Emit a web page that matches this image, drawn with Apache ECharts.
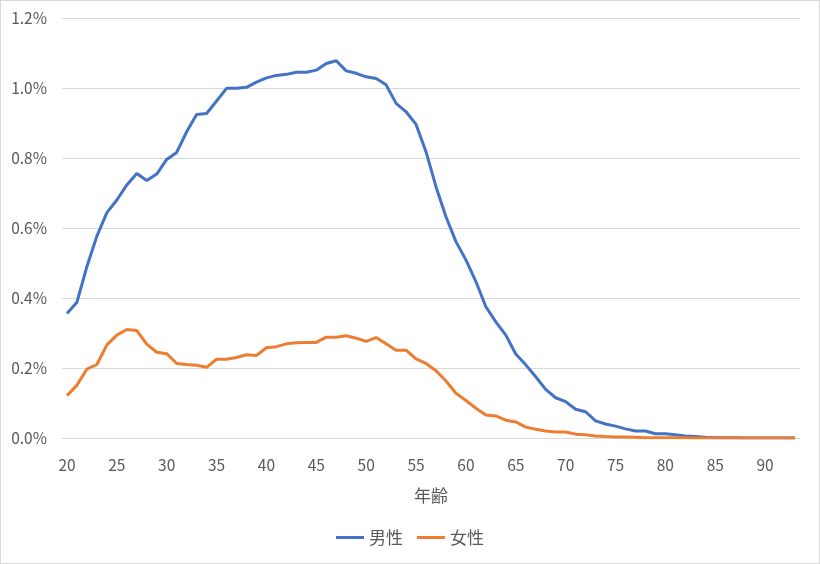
<!DOCTYPE html>
<html lang="ja" style="height: 100%">
<head>
  <meta charset="utf-8">
</head>
<body style="height: 100%; margin: 0">
  <div id="container" style="width: 820px; height: 564px; box-sizing: border-box; border: 1px solid #d9d9d9"></div>

  <script type="text/javascript" src="https://cdn.jsdelivr.net/npm/echarts@6/dist/echarts.min.js"></script>

  <script type="text/javascript">
    // ages 20..93
    const ages = [];
    for (let a = 20; a <= 93; a++) ages.push(String(a));

    // share in percent
    const male = [
      0.356, 0.388, 0.49, 0.577, 0.644, 0.68, 0.723, 0.756, 0.736, 0.754,
      0.796, 0.816, 0.875, 0.924, 0.927, 0.963, 0.999, 0.999, 1.002, 1.017,
      1.029, 1.036, 1.039, 1.045, 1.045, 1.051, 1.07, 1.078, 1.049, 1.042,
      1.032, 1.027, 1.009, 0.956, 0.932, 0.896, 0.818, 0.718, 0.632, 0.561,
      0.509, 0.447, 0.375, 0.332, 0.294, 0.24, 0.209, 0.175, 0.139, 0.115,
      0.104, 0.082, 0.075, 0.049, 0.04, 0.034, 0.026, 0.02, 0.02, 0.012,
      0.012, 0.009, 0.006, 0.004, 0.002, 0.001, 0.001, 0.0005, 0, 0,
      0, 0, 0, 0
    ];
    const female = [
      0.121, 0.151, 0.197, 0.21, 0.266, 0.294, 0.31, 0.307, 0.268, 0.245,
      0.241, 0.213, 0.21, 0.208, 0.202, 0.225, 0.225, 0.23, 0.238, 0.236,
      0.258, 0.261, 0.269, 0.272, 0.273, 0.273, 0.288, 0.288, 0.292, 0.285,
      0.276, 0.287, 0.269, 0.251, 0.251, 0.226, 0.213, 0.192, 0.163, 0.128,
      0.107, 0.085, 0.066, 0.063, 0.051, 0.046, 0.031, 0.025, 0.02, 0.017,
      0.017, 0.011, 0.009, 0.006, 0.004, 0.003, 0.003, 0.002, 0.001, 0.001,
      0.001, 0.001, 0.0005, 0, 0, 0, 0, 0, 0, 0,
      0, 0, 0, 0
    ];

    var dom = document.getElementById('container');
    var myChart = echarts.init(dom, null, { renderer: 'canvas' });
    var font = '"Noto Sans CJK JP", "Noto Sans", sans-serif';

    var option = {
      animation: false,
      textStyle: { fontFamily: font },
      grid: { left: 61, right: 19, top: 17, bottom: 125 },
      legend: {
        bottom: 12,
        left: 'center',
        icon: 'rect',
        itemWidth: 28,
        itemHeight: 3,
        itemGap: 14,
        textStyle: { color: '#595959', fontSize: 17, fontFamily: font },
        data: ['男性', '女性']
      },
      xAxis: {
        type: 'category',
        data: ages,
        boundaryGap: true,
        name: '年齢',
        nameLocation: 'middle',
        nameGap: 49,
        nameTextStyle: { color: '#595959', fontSize: 17 },
        axisLine: { lineStyle: { color: '#d9d9d9' } },
        axisTick: { show: false },
        axisLabel: { interval: 4, color: '#595959', fontSize: 15.5, margin: 19 }
      },
      yAxis: {
        type: 'value',
        min: 0,
        max: 1.2,
        interval: 0.2,
        axisLine: { show: false },
        axisTick: { show: false },
        splitLine: { lineStyle: { color: '#d9d9d9' } },
        axisLabel: {
          color: '#595959',
          fontSize: 15.5,
          margin: 15,
          formatter: function (v) { return v.toFixed(1) + '%'; }
        }
      },
      series: [
        {
          name: '男性',
          type: 'line',
          data: male,
          showSymbol: false,
          itemStyle: { color: '#4472c4' },
          lineStyle: { color: '#4472c4', width: 3 }
        },
        {
          name: '女性',
          type: 'line',
          data: female,
          showSymbol: false,
          itemStyle: { color: '#ed7d31' },
          lineStyle: { color: '#ed7d31', width: 3 }
        }
      ]
    };

    myChart.setOption(option);
    window.addEventListener('resize', myChart.resize);
  </script>
</body>
</html>
